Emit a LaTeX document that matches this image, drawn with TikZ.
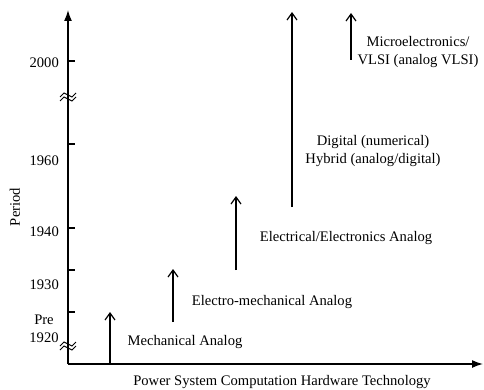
\documentclass[tikz,border=0pt]{standalone}
\usepackage{fontspec}
\setmainfont{Liberation Serif}
\usetikzlibrary{arrows.meta}
\begin{document}
\begin{tikzpicture}[x=1pt,y=-1pt,
  lbl/.style={font=\fontsize{14.6}{18}\selectfont, inner sep=0pt, align=center},
  axis/.style={line width=1.5pt, -{Latex[length=11pt,width=8pt]}},
  era/.style={line width=1.2pt, -{Straight Barb[length=7pt,width=10pt]}},
  tick/.style={line width=1.3pt},
  brk/.style={line width=0.9pt}]
\useasboundingbox (0,0) rectangle (484,390);
% axes
\coordinate (O) at (68,364);
\coordinate (Ytop) at (68,10);
\coordinate (Xend) at (483,364);
\draw[axis] (O) -- (Ytop);
\draw[axis] (O) -- (Xend);
% ticks
\foreach \n/\y in {t2000/61, t1960/144, t1940/228, t1930/270, t1920/312}{
  \coordinate (\n) at (68,\y);
  \draw[tick] (\n) -- ++(7,0);
}
% tick labels
\node[lbl, anchor=east] (l2000) at (59,63) {2000};
\node[lbl, anchor=east] (l1960) at (59,161) {1960};
\node[lbl, anchor=east] (l1940) at (59,232) {1940};
\node[lbl, anchor=east] (l1930) at (59,285) {1930};
\node[lbl] (l1920) at (44,329) {Pre\\1920};
\node[lbl, rotate=90] (period) at (15,207) {Period};
% break marks
\foreach \y in {96,345}{
  \draw[brk] (60,\y+1) -- (64,\y-3) -- (72,\y+1) -- (76,\y-3);
  \draw[brk] (60,\y+5) -- (64,\y+1) -- (72,\y+5) -- (76,\y+1);
}
% era arrows
\coordinate (m1) at (110,364); \coordinate (m2) at (110,312);
\coordinate (e1) at (173,322); \coordinate (e2) at (173,269);
\coordinate (el1) at (236,270); \coordinate (el2) at (236,196);
\coordinate (d1) at (292,207); \coordinate (d2) at (292,12);
\coordinate (v1) at (351,60); \coordinate (v2) at (351,13);
\draw[era] (m1) -- (m2);
\draw[era] (e1) -- (e2);
\draw[era] (el1) -- (el2);
\draw[era] (d1) -- (d2);
\draw[era] (v1) -- (v2);
% era labels
\node[lbl] (mech) at (185,342) {Mechanical Analog};
\node[lbl] (emech) at (272,302) {Electro-mechanical Analog};
\node[lbl] (elec) at (346,238) {Electrical/Electronics Analog};
\node[lbl] (dig) at (373,151) {Digital (numerical)\\Hybrid (analog/digital)};
\node[lbl] (vlsi) at (418,52) {Microelectronics/\\VLSI (analog VLSI)};
\node[lbl] (xlabel) at (282,382) {Power System Computation Hardware Technology};
\end{tikzpicture}
\end{document}
